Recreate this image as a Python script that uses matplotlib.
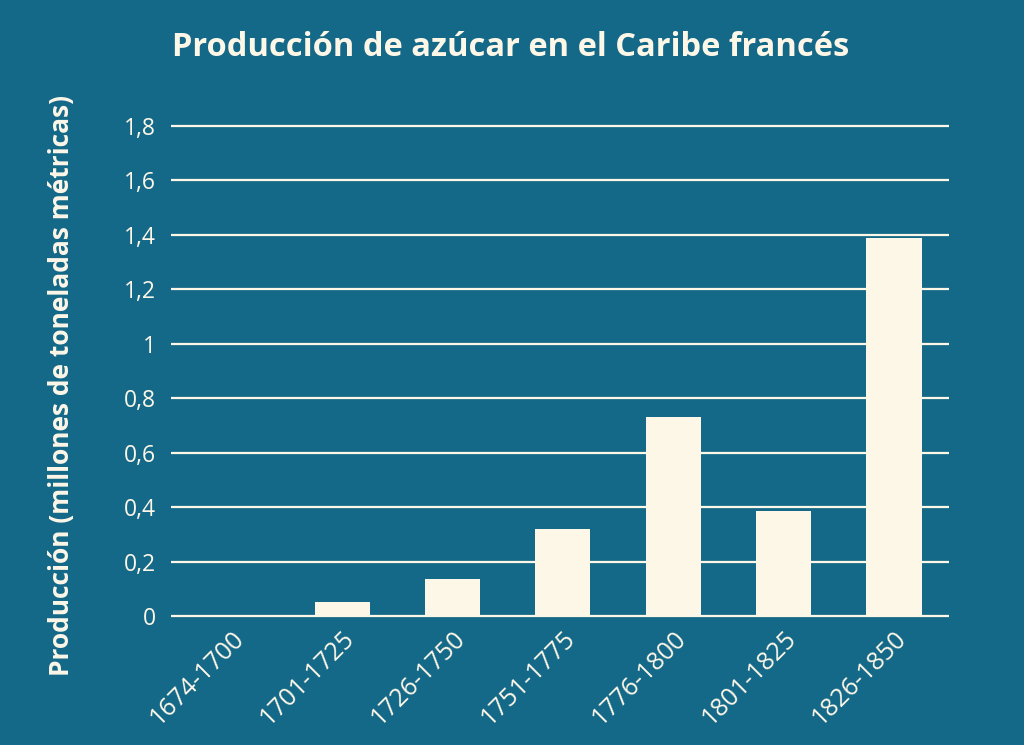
import matplotlib
matplotlib.use("Agg")
import matplotlib.pyplot as plt
from matplotlib.transforms import ScaledTranslation

periods = ["1674-1700", "1701-1725", "1726-1750", "1751-1775",
           "1776-1800", "1801-1825", "1826-1850"]
production = [0.0, 0.05, 0.135, 0.32, 0.73, 0.385, 1.39]
yticks = [0, 0.2, 0.4, 0.6, 0.8, 1.0, 1.2, 1.4, 1.6, 1.8]
ytick_labels = ["0", "0,2", "0,4", "0,6", "0,8", "1", "1,2", "1,4", "1,6", "1,8"]

BG = "#156988"
CREAM = "#fdf7e8"
FONT = ["Open Sans", "DejaVu Sans"]

fig = plt.figure(figsize=(10.24, 7.45), dpi=100, facecolor=BG)
ax = fig.add_axes([0.167, 0.1659, 0.760, 0.6722])
ax.set_facecolor(BG)

x = list(range(len(periods)))
for yv in yticks:
    ax.axhline(yv, color=CREAM, lw=1.6, zorder=1)
ax.bar(x, production, width=0.5, color=CREAM, zorder=2)

ax.set_xlim(-0.55, 6.5)
ax.set_ylim(-0.02, 1.82)
for s in ax.spines.values():
    s.set_visible(False)
ax.tick_params(length=0)
ax.set_yticks(yticks)
ax.set_yticklabels(ytick_labels, fontsize=16.5, color=CREAM, family=FONT)
ax.tick_params(axis="y", pad=11)
ax.set_xticks(x)
labels = ax.set_xticklabels(periods, fontsize=18, color=CREAM, family=FONT,
                            rotation=45, ha="right", va="top",
                            rotation_mode="anchor")
off = ScaledTranslation(0 / 72, 0 / 72, fig.dpi_scale_trans)
for lab in labels:
    lab.set_transform(lab.get_transform() + off)

fig.text(62 / 1024, 1 - 385 / 745, "Producción (millones de toneladas métricas)",
         fontsize=19, fontweight="bold", color=CREAM, family=FONT,
         rotation=90, ha="center", va="center")
fig.text(511 / 1024, 1 - 48 / 745, "Producción de azúcar en el Caribe francés",
         fontsize=23.5, fontweight="bold", color=CREAM, family=FONT,
         ha="center", va="center")

fig.savefig("out.png", dpi=100, facecolor=BG)
